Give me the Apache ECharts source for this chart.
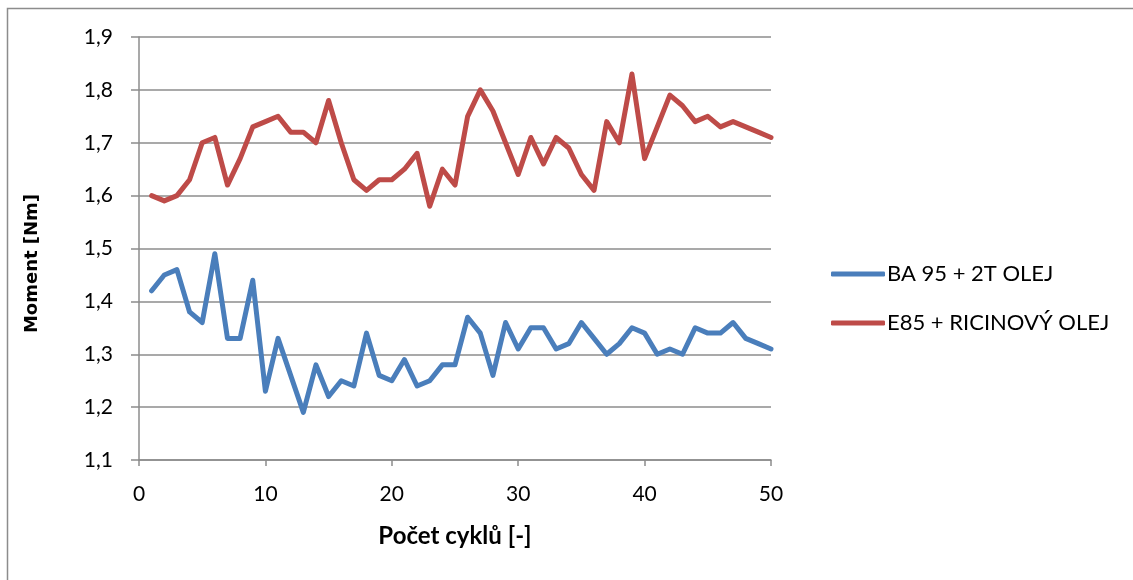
<!DOCTYPE html>
<html>
<head>
<meta charset="utf-8">
<script src="https://cdn.jsdelivr.net/npm/echarts@6/dist/echarts.min.js"></script>
<style>
  html, body { margin: 0; padding: 0; background: #fff; }
  #chart { width: 1133px; height: 580px; }
</style>
</head>
<body>
<div id="chart"></div>
<script>
// Cycle numbers 1..50
const cycles = [1,2,3,4,5,6,7,8,9,10,11,12,13,14,15,16,17,18,19,20,21,22,23,24,25,
  26,27,28,29,30,31,32,33,34,35,36,37,38,39,40,41,42,43,44,45,46,47,48,49,50];

// Torque [Nm], BA 95 + 2T oil
const ba95 = [1.42,1.45,1.46,1.38,1.36,1.49,1.33,1.33,1.44,1.23,1.33,1.26,1.19,1.28,1.22,
  1.25,1.24,1.34,1.26,1.25,1.29,1.24,1.25,1.28,1.28,1.37,1.34,1.26,1.36,1.31,
  1.35,1.35,1.31,1.32,1.36,1.33,1.30,1.32,1.35,1.34,1.30,1.31,1.30,1.35,1.34,
  1.34,1.36,1.33,1.32,1.31];

// Torque [Nm], E85 + castor oil
const e85 = [1.60,1.59,1.60,1.63,1.70,1.71,1.62,1.67,1.73,1.74,1.75,1.72,1.72,1.70,1.78,
  1.70,1.63,1.61,1.63,1.63,1.65,1.68,1.58,1.65,1.62,1.75,1.80,1.76,1.70,1.64,
  1.71,1.66,1.71,1.69,1.64,1.61,1.74,1.70,1.83,1.67,1.73,1.79,1.77,1.74,1.75,
  1.73,1.74,1.73,1.72,1.71];

const seriesNames = ['BA 95 + 2T OLEJ', 'E85 + RICINOVÝ OLEJ'];
const xTitle = 'Počet cyklů [-]';
const yTitle = 'Moment [Nm]';

const toPairs = vals => cycles.map((c, i) => [c, vals[i]]);

const FONT = 'Lato, "Open Sans", sans-serif';
const AXIS_GRAY = '#8c8c8c';

const chart = echarts.init(document.getElementById('chart'), null, { renderer: 'canvas' });
chart.setOption({
  animation: false,
  backgroundColor: '#fff',
  graphic: [{
    type: 'rect',
    shape: { x: 7.5, y: 8.5, width: 1200, height: 650 },
    style: { fill: 'none', stroke: '#8c8c8c', lineWidth: 1.5 },
    silent: true
  }],
  grid: { left: 139, right: 362, top: 37, bottom: 120, containLabel: false },
  legend: {
    orient: 'vertical',
    left: 826,
    top: 258,
    itemWidth: 54,
    itemHeight: 5,
    itemGap: 27,
    icon: 'roundRect',
    textStyle: { fontFamily: FONT, fontSize: 22, color: '#000', padding: [0, 0, 0, -3] },
    data: seriesNames.map(n => ({ name: n, icon: 'roundRect' }))
  },
  xAxis: {
    type: 'value',
    min: 0, max: 50, interval: 10,
    name: xTitle,
    nameLocation: 'middle',
    nameGap: 64,
    nameTextStyle: { fontFamily: FONT, fontSize: 24, fontWeight: 'bold', color: '#000' },
    axisLine: { show: true, onZero: false, lineStyle: { color: AXIS_GRAY, width: 1.5 } },
    axisTick: { show: true, inside: false, length: 6, lineStyle: { color: AXIS_GRAY, width: 1.5 } },
    axisLabel: { fontFamily: FONT, fontSize: 21, color: '#000', margin: 24 },
    splitLine: { show: false }
  },
  yAxis: {
    type: 'value',
    min: 1.1, max: 1.9, interval: 0.1,
    name: yTitle,
    nameLocation: 'middle',
    nameGap: 98,
    nameTextStyle: {
      fontFamily: '"DejaVu Sans", sans-serif', fontSize: 18, fontWeight: 'bold', color: '#000',
      padding: [0, 30, 0, 0]
    },
    axisLine: { show: true, lineStyle: { color: AXIS_GRAY, width: 1.5 } },
    axisTick: { show: true, inside: false, length: 8, lineStyle: { color: AXIS_GRAY, width: 1.5 } },
    axisLabel: {
      fontFamily: FONT, fontSize: 21, color: '#000', margin: 26,
      formatter: v => v.toFixed(1).replace('.', ',')
    },
    splitLine: { show: true, lineStyle: { color: AXIS_GRAY, width: 1.5 } }
  },
  series: [
    {
      name: seriesNames[0],
      type: 'line',
      data: toPairs(ba95),
      showSymbol: false,
      symbol: 'none',
      lineStyle: { color: '#4a7ebb', width: 5, cap: 'round', join: 'round' },
      itemStyle: { color: '#4a7ebb' }
    },
    {
      name: seriesNames[1],
      type: 'line',
      data: toPairs(e85),
      showSymbol: false,
      symbol: 'none',
      lineStyle: { color: '#be4b48', width: 5, cap: 'round', join: 'round' },
      itemStyle: { color: '#be4b48' }
    }
  ]
});
</script>
</body>
</html>
